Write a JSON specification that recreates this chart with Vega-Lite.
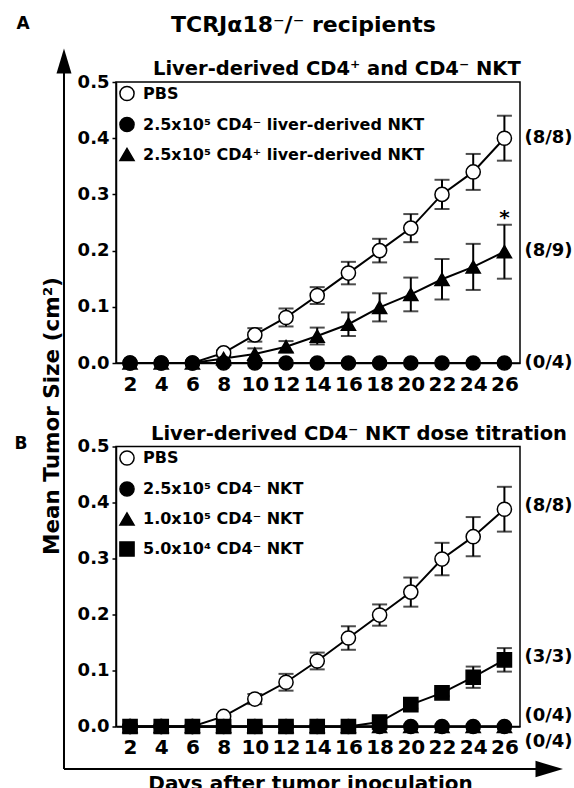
{
  "$schema": "https://vega.github.io/schema/vega-lite/v6.json",
  "padding": {"left": 13, "top": 13, "right": 0, "bottom": 0},
  "background": "white",
  "title": {"text": "TCRJα18⁻/⁻ recipients", "anchor": "start", "frame": "group", "dx": 55, "offset": -40.5, "baseline": "alphabetic", "fontSize": 22},
  "datasets": {
    "a": [
      {"group": "PBS", "day": 2, "mean": 0, "err": 0},
      {"group": "PBS", "day": 4, "mean": 0, "err": 0},
      {"group": "PBS", "day": 6, "mean": 0, "err": 0},
      {"group": "PBS", "day": 8, "mean": 0.018, "err": 0.004},
      {"group": "PBS", "day": 10, "mean": 0.05, "err": 0.012},
      {"group": "PBS", "day": 12, "mean": 0.081, "err": 0.016},
      {"group": "PBS", "day": 14, "mean": 0.12, "err": 0.015},
      {"group": "PBS", "day": 16, "mean": 0.16, "err": 0.02},
      {"group": "PBS", "day": 18, "mean": 0.2, "err": 0.021},
      {"group": "PBS", "day": 20, "mean": 0.24, "err": 0.025},
      {"group": "PBS", "day": 22, "mean": 0.3, "err": 0.026},
      {"group": "PBS", "day": 24, "mean": 0.34, "err": 0.032},
      {"group": "PBS", "day": 26, "mean": 0.4, "err": 0.04},
      {"group": "2.5x10⁵ CD4⁺ liver-derived NKT", "day": 2, "mean": 0, "err": 0},
      {"group": "2.5x10⁵ CD4⁺ liver-derived NKT", "day": 4, "mean": 0, "err": 0},
      {"group": "2.5x10⁵ CD4⁺ liver-derived NKT", "day": 6, "mean": 0, "err": 0},
      {"group": "2.5x10⁵ CD4⁺ liver-derived NKT", "day": 8, "mean": 0.008, "err": 0.004},
      {"group": "2.5x10⁵ CD4⁺ liver-derived NKT", "day": 10, "mean": 0.016, "err": 0.01},
      {"group": "2.5x10⁵ CD4⁺ liver-derived NKT", "day": 12, "mean": 0.029, "err": 0.01},
      {"group": "2.5x10⁵ CD4⁺ liver-derived NKT", "day": 14, "mean": 0.048, "err": 0.015},
      {"group": "2.5x10⁵ CD4⁺ liver-derived NKT", "day": 16, "mean": 0.069, "err": 0.021},
      {"group": "2.5x10⁵ CD4⁺ liver-derived NKT", "day": 18, "mean": 0.099, "err": 0.025},
      {"group": "2.5x10⁵ CD4⁺ liver-derived NKT", "day": 20, "mean": 0.122, "err": 0.03},
      {"group": "2.5x10⁵ CD4⁺ liver-derived NKT", "day": 22, "mean": 0.149, "err": 0.036},
      {"group": "2.5x10⁵ CD4⁺ liver-derived NKT", "day": 24, "mean": 0.171, "err": 0.041},
      {"group": "2.5x10⁵ CD4⁺ liver-derived NKT", "day": 26, "mean": 0.198, "err": 0.048},
      {"group": "2.5x10⁵ CD4⁻ liver-derived NKT", "day": 2, "mean": 0, "err": 0},
      {"group": "2.5x10⁵ CD4⁻ liver-derived NKT", "day": 4, "mean": 0, "err": 0},
      {"group": "2.5x10⁵ CD4⁻ liver-derived NKT", "day": 6, "mean": 0, "err": 0},
      {"group": "2.5x10⁵ CD4⁻ liver-derived NKT", "day": 8, "mean": 0, "err": 0},
      {"group": "2.5x10⁵ CD4⁻ liver-derived NKT", "day": 10, "mean": 0, "err": 0},
      {"group": "2.5x10⁵ CD4⁻ liver-derived NKT", "day": 12, "mean": 0, "err": 0},
      {"group": "2.5x10⁵ CD4⁻ liver-derived NKT", "day": 14, "mean": 0, "err": 0},
      {"group": "2.5x10⁵ CD4⁻ liver-derived NKT", "day": 16, "mean": 0, "err": 0},
      {"group": "2.5x10⁵ CD4⁻ liver-derived NKT", "day": 18, "mean": 0, "err": 0},
      {"group": "2.5x10⁵ CD4⁻ liver-derived NKT", "day": 20, "mean": 0, "err": 0},
      {"group": "2.5x10⁵ CD4⁻ liver-derived NKT", "day": 22, "mean": 0, "err": 0},
      {"group": "2.5x10⁵ CD4⁻ liver-derived NKT", "day": 24, "mean": 0, "err": 0},
      {"group": "2.5x10⁵ CD4⁻ liver-derived NKT", "day": 26, "mean": 0, "err": 0}
    ],
    "b": [
      {"group": "PBS", "day": 2, "mean": 0, "err": 0},
      {"group": "PBS", "day": 4, "mean": 0, "err": 0},
      {"group": "PBS", "day": 6, "mean": 0, "err": 0},
      {"group": "PBS", "day": 8, "mean": 0.018, "err": 0},
      {"group": "PBS", "day": 10, "mean": 0.049, "err": 0.009},
      {"group": "PBS", "day": 12, "mean": 0.079, "err": 0.015},
      {"group": "PBS", "day": 14, "mean": 0.117, "err": 0.015},
      {"group": "PBS", "day": 16, "mean": 0.158, "err": 0.021},
      {"group": "PBS", "day": 18, "mean": 0.199, "err": 0.019},
      {"group": "PBS", "day": 20, "mean": 0.24, "err": 0.026},
      {"group": "PBS", "day": 22, "mean": 0.299, "err": 0.029},
      {"group": "PBS", "day": 24, "mean": 0.339, "err": 0.035},
      {"group": "PBS", "day": 26, "mean": 0.388, "err": 0.04},
      {"group": "1.0x10⁵ CD4⁻ NKT", "day": 2, "mean": 0, "err": 0},
      {"group": "1.0x10⁵ CD4⁻ NKT", "day": 4, "mean": 0, "err": 0},
      {"group": "1.0x10⁵ CD4⁻ NKT", "day": 6, "mean": 0, "err": 0},
      {"group": "1.0x10⁵ CD4⁻ NKT", "day": 8, "mean": 0, "err": 0},
      {"group": "1.0x10⁵ CD4⁻ NKT", "day": 10, "mean": 0, "err": 0},
      {"group": "1.0x10⁵ CD4⁻ NKT", "day": 12, "mean": 0, "err": 0},
      {"group": "1.0x10⁵ CD4⁻ NKT", "day": 14, "mean": 0, "err": 0},
      {"group": "1.0x10⁵ CD4⁻ NKT", "day": 16, "mean": 0, "err": 0},
      {"group": "1.0x10⁵ CD4⁻ NKT", "day": 18, "mean": 0, "err": 0},
      {"group": "1.0x10⁵ CD4⁻ NKT", "day": 20, "mean": 0, "err": 0},
      {"group": "1.0x10⁵ CD4⁻ NKT", "day": 22, "mean": 0, "err": 0},
      {"group": "1.0x10⁵ CD4⁻ NKT", "day": 24, "mean": 0, "err": 0},
      {"group": "1.0x10⁵ CD4⁻ NKT", "day": 26, "mean": 0, "err": 0},
      {"group": "2.5x10⁵ CD4⁻ NKT", "day": 2, "mean": 0, "err": 0},
      {"group": "2.5x10⁵ CD4⁻ NKT", "day": 4, "mean": 0, "err": 0},
      {"group": "2.5x10⁵ CD4⁻ NKT", "day": 6, "mean": 0, "err": 0},
      {"group": "2.5x10⁵ CD4⁻ NKT", "day": 8, "mean": 0, "err": 0},
      {"group": "2.5x10⁵ CD4⁻ NKT", "day": 10, "mean": 0, "err": 0},
      {"group": "2.5x10⁵ CD4⁻ NKT", "day": 12, "mean": 0, "err": 0},
      {"group": "2.5x10⁵ CD4⁻ NKT", "day": 14, "mean": 0, "err": 0},
      {"group": "2.5x10⁵ CD4⁻ NKT", "day": 16, "mean": 0, "err": 0},
      {"group": "2.5x10⁵ CD4⁻ NKT", "day": 18, "mean": 0, "err": 0},
      {"group": "2.5x10⁵ CD4⁻ NKT", "day": 20, "mean": 0, "err": 0},
      {"group": "2.5x10⁵ CD4⁻ NKT", "day": 22, "mean": 0, "err": 0},
      {"group": "2.5x10⁵ CD4⁻ NKT", "day": 24, "mean": 0, "err": 0},
      {"group": "2.5x10⁵ CD4⁻ NKT", "day": 26, "mean": 0, "err": 0},
      {"group": "5.0x10⁴ CD4⁻ NKT", "day": 2, "mean": 0, "err": 0},
      {"group": "5.0x10⁴ CD4⁻ NKT", "day": 4, "mean": 0, "err": 0},
      {"group": "5.0x10⁴ CD4⁻ NKT", "day": 6, "mean": 0, "err": 0},
      {"group": "5.0x10⁴ CD4⁻ NKT", "day": 8, "mean": 0, "err": 0},
      {"group": "5.0x10⁴ CD4⁻ NKT", "day": 10, "mean": 0, "err": 0},
      {"group": "5.0x10⁴ CD4⁻ NKT", "day": 12, "mean": 0, "err": 0},
      {"group": "5.0x10⁴ CD4⁻ NKT", "day": 14, "mean": 0, "err": 0},
      {"group": "5.0x10⁴ CD4⁻ NKT", "day": 16, "mean": 0, "err": 0},
      {"group": "5.0x10⁴ CD4⁻ NKT", "day": 18, "mean": 0.008, "err": 0},
      {"group": "5.0x10⁴ CD4⁻ NKT", "day": 20, "mean": 0.039, "err": 0.007},
      {"group": "5.0x10⁴ CD4⁻ NKT", "day": 22, "mean": 0.06, "err": 0.006},
      {"group": "5.0x10⁴ CD4⁻ NKT", "day": 24, "mean": 0.088, "err": 0.019},
      {"group": "5.0x10⁴ CD4⁻ NKT", "day": 26, "mean": 0.119, "err": 0.021}
    ],
    "labelsA": [
      {"label": "(8/8)", "day": 26, "pos": 0.4},
      {"label": "(8/9)", "day": 26, "pos": 0.2},
      {"label": "(0/4)", "day": 26, "pos": 0}
    ],
    "starA": [
      {"label": "*", "day": 26, "pos": 0.247}
    ],
    "labelsB": [
      {"label": "(8/8)", "day": 26, "pos": 0.393},
      {"label": "(3/3)", "day": 26, "pos": 0.125},
      {"label": "(0/4)", "day": 26, "pos": 0.018},
      {"label": "(0/4)", "day": 26, "pos": -0.027}
    ],
    "frame": [{"item": "axis arrows"}]
  },
  "bounds": "flush",
  "spacing": 83.5,
  "resolve": {"scale": {"shape": "independent", "fill": "independent", "x": "independent"}, "legend": {"shape": "independent", "fill": "independent"}},
  "vconcat": [
    {
      "width": 404,
      "height": 281,
      "title": {"text": "Liver-derived CD4⁺ and CD4⁻ NKT", "anchor": "start", "frame": "group", "dx": 37, "offset": -80, "baseline": "alphabetic", "fontSize": 19.5},
      "layer": [
        {
          "data": {"name": "a"},
          "mark": {"type": "line", "color": "black", "strokeWidth": 2},
          "encoding": {
            "x": {"field": "day", "type": "quantitative", "title": "Mean Tumor Size (cm²)", "scale": {"domain": [1.1, 27], "nice": false, "zero": false},
              "axis": {"values": [2,4,6,8,10,12,14,16,18,20,22,24,26], "tickCount": 13, "tickSize": 3, "labelPadding": 8, "labelFontSize": 20, "labelOverlap": false, "labelFlush": false, "labelBound": false,
                "title": "Mean Tumor Size (cm²)", "titleAngle": 270, "titleX": -58, "titleY": 52.5, "titleAlign": "center", "titleBaseline": "alphabetic", "titleFontSize": 21.5}},
            "y": {"field": "mean", "type": "quantitative", "title": "A", "scale": {"domain": [0, 0.5], "nice": false},
              "axis": {"values": [0, 0.1, 0.2, 0.3, 0.4, 0.5], "format": ".1f", "tickSize": 4, "labelPadding": 3, "labelFontSize": 18, "labelOverlap": false,
                "title": "A", "titleAngle": 0, "titleX": -100, "titleY": -53.5, "titleAlign": "left", "titleBaseline": "alphabetic", "titleFontSize": 17}},
            "detail": {"field": "group"}
          }
        },
        {
          "data": {"name": "a"},
          "transform": [{"filter": "datum.err > 0"}],
          "mark": {"type": "errorbar", "ticks": true, "thickness": 2, "size": 15, "color": "black"},
          "encoding": {
            "x": {"field": "day", "type": "quantitative", "title": "Mean Tumor Size (cm²)"},
            "y": {"field": "mean", "type": "quantitative", "title": "A"},
            "yError": {"field": "err"}
          }
        },
        {
          "data": {"name": "a"},
          "mark": {"type": "point", "filled": true, "stroke": "black", "strokeWidth": 1.5, "size": 200, "opacity": 1},
          "encoding": {
            "x": {"field": "day", "type": "quantitative", "title": "Mean Tumor Size (cm²)"},
            "y": {"field": "mean", "type": "quantitative", "title": "A"},
            "shape": {"field": "group", "type": "nominal",
              "scale": {"domain": ["PBS", "2.5x10⁵ CD4⁻ liver-derived NKT", "2.5x10⁵ CD4⁺ liver-derived NKT"], "range": ["circle", "circle", "triangle-up"]},
              "legend": {"title": null, "orient": "none", "legendX": 3, "legendY": 3.5, "symbolStrokeColor": "black", "symbolStrokeWidth": 1.5,
                "encode": {"symbols": {"update": {"stroke": {"value": "black"}, "strokeWidth": {"value": 1.5}}}}}},
            "fill": {"field": "group", "type": "nominal",
              "scale": {"domain": ["PBS", "2.5x10⁵ CD4⁻ liver-derived NKT", "2.5x10⁵ CD4⁺ liver-derived NKT"], "range": ["white", "black", "black"]},
              "legend": {"title": null, "orient": "none", "legendX": 3, "legendY": 3.5, "symbolStrokeColor": "black", "symbolStrokeWidth": 1.5,
                "encode": {"symbols": {"update": {"stroke": {"value": "black"}, "strokeWidth": {"value": 1.5}}}}}}
          }
        },
        {
          "data": {"name": "labelsA"},
          "mark": {"type": "text", "align": "left", "baseline": "middle", "dx": 20, "fontSize": 18, "fontWeight": "bold", "font": "DejaVu Sans", "color": "black"},
          "encoding": {
            "x": {"field": "day", "type": "quantitative", "title": "Mean Tumor Size (cm²)"},
            "y": {"field": "pos", "type": "quantitative", "title": "A"},
            "text": {"field": "label"}
          }
        },
        {
          "data": {"name": "starA"},
          "mark": {"type": "text", "align": "center", "baseline": "alphabetic", "dy": 0, "fontSize": 20, "fontWeight": "bold", "font": "DejaVu Sans", "color": "black"},
          "encoding": {
            "x": {"field": "day", "type": "quantitative", "title": "Mean Tumor Size (cm²)"},
            "y": {"field": "pos", "type": "quantitative", "title": "A"},
            "text": {"field": "label"}
          }
        }
      ]
    },
    {
      "width": 404,
      "height": 280,
      "title": {"text": "Liver-derived CD4⁻ NKT dose titration", "anchor": "start", "frame": "group", "dx": 35, "offset": -410.5, "baseline": "alphabetic", "fontSize": 19.5},
      "layer": [
        {
          "data": {"name": "b"},
          "mark": {"type": "line", "color": "black", "strokeWidth": 2},
          "encoding": {
            "x": {"field": "day", "type": "quantitative", "title": "Days after tumor inoculation", "scale": {"domain": [1.1, 27], "nice": false, "zero": false},
              "axis": {"values": [2,4,6,8,10,12,14,16,18,20,22,24,26], "tickCount": 13, "tickSize": 3, "labelPadding": 8, "labelFontSize": 20, "labelOverlap": false, "labelFlush": false, "labelBound": false,
                "title": "Days after tumor inoculation", "titleAngle": 0, "titleX": 194, "titleY": 62.5, "titleAlign": "center", "titleBaseline": "alphabetic", "titleFontSize": 20}},
            "y": {"field": "mean", "type": "quantitative", "title": "B", "scale": {"domain": [0, 0.5], "nice": false},
              "axis": {"values": [0, 0.1, 0.2, 0.3, 0.4, 0.5], "format": ".1f", "tickSize": 4, "labelPadding": 3, "labelFontSize": 18, "labelOverlap": false,
                "title": "B", "titleAngle": 0, "titleX": -102, "titleY": 2, "titleAlign": "left", "titleBaseline": "alphabetic", "titleFontSize": 17}},
            "detail": {"field": "group"}
          }
        },
        {
          "data": {"name": "b"},
          "transform": [{"filter": "datum.err > 0"}],
          "mark": {"type": "errorbar", "ticks": true, "thickness": 2, "size": 15, "color": "black"},
          "encoding": {
            "x": {"field": "day", "type": "quantitative", "title": "Days after tumor inoculation"},
            "y": {"field": "mean", "type": "quantitative", "title": "B"},
            "yError": {"field": "err"}
          }
        },
        {
          "data": {"name": "b"},
          "mark": {"type": "point", "filled": true, "stroke": "black", "strokeWidth": 1.5, "size": 200, "opacity": 1},
          "encoding": {
            "x": {"field": "day", "type": "quantitative", "title": "Days after tumor inoculation"},
            "y": {"field": "mean", "type": "quantitative", "title": "B"},
            "shape": {"field": "group", "type": "nominal",
              "scale": {"domain": ["PBS", "2.5x10⁵ CD4⁻ NKT", "1.0x10⁵ CD4⁻ NKT", "5.0x10⁴ CD4⁻ NKT"], "range": ["circle", "circle", "triangle-up", "square"]},
              "legend": {"title": null, "orient": "none", "legendX": 3, "legendY": 3.5, "symbolStrokeColor": "black", "symbolStrokeWidth": 1.5,
                "encode": {"symbols": {"update": {"stroke": {"value": "black"}, "strokeWidth": {"value": 1.5}}}}}},
            "fill": {"field": "group", "type": "nominal",
              "scale": {"domain": ["PBS", "2.5x10⁵ CD4⁻ NKT", "1.0x10⁵ CD4⁻ NKT", "5.0x10⁴ CD4⁻ NKT"], "range": ["white", "black", "black", "black"]},
              "legend": {"title": null, "orient": "none", "legendX": 3, "legendY": 3.5, "symbolStrokeColor": "black", "symbolStrokeWidth": 1.5,
                "encode": {"symbols": {"update": {"stroke": {"value": "black"}, "strokeWidth": {"value": 1.5}}}}}}
          }
        },
        {
          "data": {"name": "labelsB"},
          "mark": {"type": "text", "align": "left", "baseline": "middle", "dx": 20, "fontSize": 18, "fontWeight": "bold", "font": "DejaVu Sans", "color": "black"},
          "encoding": {
            "x": {"field": "day", "type": "quantitative", "title": "Days after tumor inoculation"},
            "y": {"field": "pos", "type": "quantitative", "title": "B"},
            "text": {"field": "label"}
          }
        },
        {
          "data": {"name": "frame"},
          "mark": {"type": "rule", "color": "black", "strokeWidth": 2},
          "encoding": {
            "x": {"datum": -2.234, "type": "quantitative"},
            "y": {"datum": -0.0761, "type": "quantitative"},
            "y2": {"datum": 1.18}
          }
        },
        {
          "data": {"name": "frame"},
          "mark": {"type": "rule", "color": "black", "strokeWidth": 2},
          "encoding": {
            "x": {"datum": -2.234, "type": "quantitative"},
            "x2": {"datum": 28.3},
            "y": {"datum": -0.0761, "type": "quantitative"}
          }
        },
        {
          "data": {"name": "frame"},
          "mark": {"type": "point", "shape": "M -0.5,0.833 L 0,-0.833 L 0.5,0.833 Z", "size": 900, "filled": true, "color": "black", "opacity": 1},
          "encoding": {
            "x": {"datum": -2.234, "type": "quantitative"},
            "y": {"datum": 1.1884, "type": "quantitative"}
          }
        },
        {
          "data": {"name": "frame"},
          "mark": {"type": "point", "shape": "M -1,-0.6 L 1,0 L -1,0.6 Z", "size": 756, "filled": true, "color": "black", "opacity": 1},
          "encoding": {
            "x": {"datum": 28.876, "type": "quantitative"},
            "y": {"datum": -0.0761, "type": "quantitative"}
          }
        }
      ]
    }
  ],
  "config": {
    "font": "DejaVu Sans",
    "view": {"stroke": "black", "strokeWidth": 1.5},
    "axis": {"labelFont": "DejaVu Sans", "labelFontWeight": "bold", "labelColor": "black", "titleFont": "DejaVu Sans", "titleFontWeight": "bold", "titleColor": "black", "grid": false, "domainColor": "black", "domainWidth": 1.5, "tickColor": "black", "tickWidth": 1.5, "labelOverlap": false},
    "axisX": {"labelOverlap": false, "labelFlush": false},
    "axisQuantitative": {"labelOverlap": false},
    "legend": {"labelFont": "DejaVu Sans", "labelFontWeight": "bold", "labelFontSize": 16, "labelColor": "black", "labelLimit": 600, "symbolSize": 200, "symbolStrokeColor": "black", "symbolStrokeWidth": 1.5, "symbolOpacity": 1, "labelOffset": 8, "rowPadding": 9, "padding": 0},
    "title": {"font": "DejaVu Sans", "fontWeight": "bold", "color": "black"}
  }
}
